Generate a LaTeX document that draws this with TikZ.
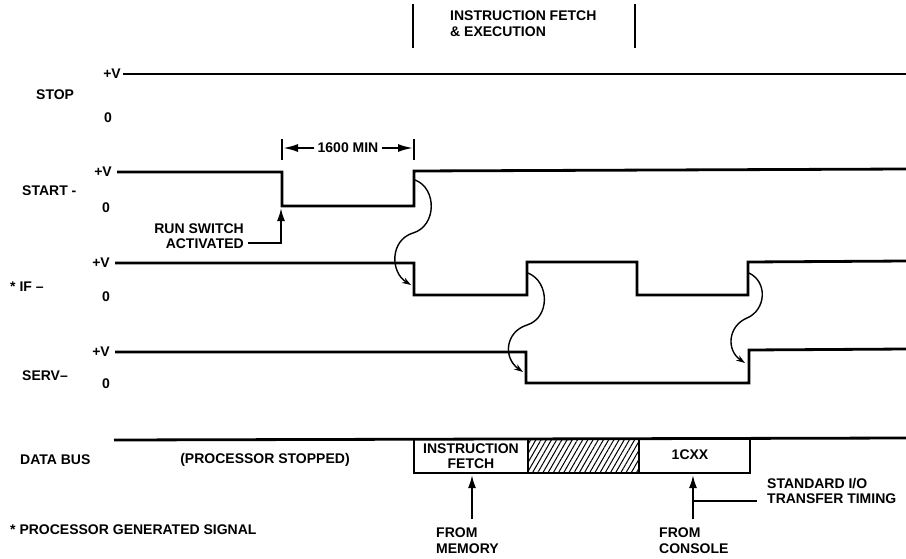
\documentclass[tikz,border=0pt]{standalone}
\usepackage{fontspec}
\setmainfont{Liberation Sans}
\usetikzlibrary{arrows.meta,patterns.meta}
\begin{document}
\begin{tikzpicture}[x=1pt,y=-1pt,
  lbl/.style={font=\bfseries\fontsize{14}{15.5}\selectfont, inner sep=0pt},
  sig/.style={line width=2.8pt, line join=miter, line cap=butt},
  thin bar/.style={line width=1.8pt},
  curv/.style={line width=1.4pt, -{Stealth[length=9pt,width=6pt]}},
  bigarrow/.style={line width=2pt, -{Latex[length=13pt,width=8pt]}},
  dimarrow/.style={line width=2pt, -{Latex[length=15pt,width=8pt]}}]
\useasboundingbox (0,0) rectangle (906,558);
% header
\draw[thin bar] (413,4) -- (413,48);
\draw[thin bar] (635,4) -- (635,48);
\node[lbl, align=left, anchor=north west] (hdr) at (450,11) {INSTRUCTION FETCH\\\& EXECUTION};
% row labels
\node[lbl, anchor=west] (stop) at (36,95) {STOP};
\node[lbl, anchor=west] (start) at (22,191) {START -};
\node[lbl, anchor=west] (if) at (10,287) {* IF --};
\node[lbl, anchor=west] (serv) at (22,376) {SERV--};
\node[lbl, anchor=west] (dbus) at (20,460) {DATA BUS};
\node[lbl] (pstop) at (265,460) {(PROCESSOR STOPPED)};
\node[lbl, anchor=west] (note) at (10,530) {* PROCESSOR GENERATED SIGNAL};
% level labels
\node[lbl, anchor=east] (v1) at (121,74) {+V};
\node[lbl] (z1) at (108,118) {0};
\node[lbl, anchor=east] (v2) at (112,172) {+V};
\node[lbl] (z2) at (106,208) {0};
\node[lbl, anchor=east] (v3) at (110,263) {+V};
\node[lbl] (z3) at (106,297) {0};
\node[lbl, anchor=east] (v4) at (110,352) {+V};
\node[lbl] (z4) at (106,384) {0};
% signals
\draw[sig] (123,74) -- (906,74);
\draw[sig] (117,172) -- (282,172) -- (282,206) -- (414,206) -- (414,171) -- (906,169);
\draw[sig] (115,263) -- (414,263) -- (414,295) -- (527,295) -- (527,262) -- (637,262) -- (637,295) -- (748,295) -- (748,262) -- (906,261);
\draw[sig] (115,352) -- (526,352) -- (526,383) -- (749,383) -- (749,350) -- (906,349);
% data bus
\fill[pattern={Lines[angle=60,distance=4.5pt,line width=1pt]}] (528,440) rectangle (639,472);
\draw[sig] (114,440) -- (906,438);
\draw[sig] (414,439) -- (414,473) -- (750,473) -- (750,439);
\draw[sig] (528,439) -- (528,473);
\draw[sig] (639,439) -- (639,473);
\node[lbl, align=center] (ifetch) at (471,456) {INSTRUCTION\\FETCH};
\node[lbl] (cxx) at (690,455) {1CXX};
% 1600 MIN dimension
\draw[thin bar] (282,139) -- (282,160);
\draw[thin bar] (414,139) -- (414,160);
\node[lbl, fill=white, inner xsep=3pt] (dim) at (348,148) {1600 MIN};
\coordinate (dl) at (283,148);
\coordinate (dr) at (413,148);
\draw[dimarrow] (dim.west) -- (dl);
\draw[dimarrow] (dim.east) -- (dr);
% run switch
\node[lbl, align=right, anchor=east] (run) at (244,236) {RUN SWITCH\\ACTIVATED};
\coordinate (runs) at (248,243);
\coordinate (runc) at (281,243);
\coordinate (runt) at (281,208);
\draw[bigarrow] (runs) -- (runc) -- (runt);
% causal curves
\draw[curv] (415,180) .. controls (437,188) and (437,226) .. (413,233) .. controls (390,240) and (390,272) .. (411,285);
\draw[curv] (528,273) .. controls (550,282) and (550,318) .. (527,325) .. controls (505,332) and (503,358) .. (523,372);
\draw[curv] (749,273) .. controls (768,282) and (766,310) .. (747,318) .. controls (728,326) and (726,350) .. (745,363);
% source arrows
\node[lbl, align=left, anchor=north west] (mem) at (436,528) {FROM\\MEMORY};
\node[lbl, align=left, anchor=north west] (con) at (659,528) {FROM\\CONSOLE};
\coordinate (memt) at (472,475);
\coordinate (cont) at (693,475);
\draw[bigarrow] (472,519) -- (memt);
\draw[bigarrow] (693,519) -- (cont);
\node[lbl, align=left, anchor=west] (std) at (767,491) {STANDARD I/O\\TRANSFER TIMING};
\coordinate (stdj) at (693,501);
\draw[line width=2pt] (stdj) -- (757,501);
\end{tikzpicture}
\end{document}
